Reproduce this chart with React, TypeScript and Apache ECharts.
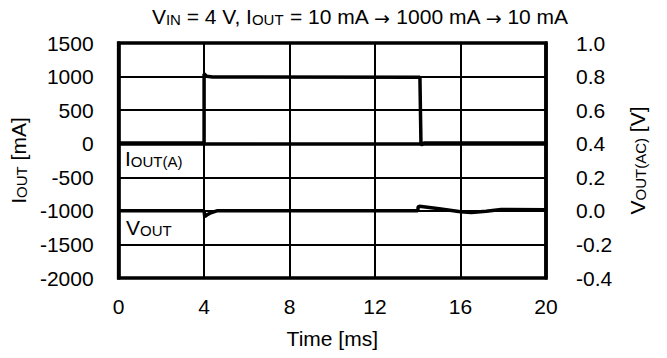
import React, { useEffect, useRef } from "react";
import * as echarts from "echarts";

const xTicks = [0, 4, 8, 12, 16, 20];
const iTime = [0, 4.0, 4.0, 4.12, 4.4, 14.05, 14.1, 14.15, 14.3, 20];
const iVal = [10, 10, 1040, 1005, 995, 990, 990, -20, 10, 10];
const vTime = [0, 4.0, 4.03, 4.15, 4.35, 4.6, 14.0, 14.02, 14.08, 15.0, 16.0, 16.5, 17.2, 17.9, 20];
const vVal = [0, 0, -0.035, -0.022, -0.01, 0, 0, 0.025, 0.027, 0.013, -0.005, -0.01, -0.002, 0.008, 0.007];

const FONT = "'Liberation Sans', Arial, sans-serif";
const FS = 21;
const SS = 15;

export default function App() {
  const ref = useRef<HTMLDivElement>(null);
  useEffect(() => {
    if (!ref.current) return;
    const chart = echarts.init(ref.current, undefined, { renderer: "svg" });
    const n = { fontSize: FS, fontFamily: FONT, color: "#000", verticalAlign: "bottom", lineHeight: 22 };
    const s = { fontSize: SS, fontFamily: FONT, color: "#000", verticalAlign: "bottom", lineHeight: 19 };
    const a = { fontSize: 19, fontFamily: "'DejaVu Sans', sans-serif", color: "#000", verticalAlign: "bottom", lineHeight: 22 };
    const rich = { n, s, a };
    const iData = iTime.map((t, k) => [t, iVal[k]]);
    const vData = vTime.map((t, k) => [t, vVal[k]]);
    const lbl = { color: "#000", fontSize: FS, fontFamily: FONT };
    chart.setOption({
      animation: false,
      backgroundColor: "#fff",
      textStyle: { fontFamily: FONT },
      grid: {
        left: 118,
        right: 121,
        top: 43,
        bottom: 80,
        show: true,
        borderColor: "#000",
        borderWidth: 3.5,
        backgroundColor: "transparent",
      },
      xAxis: {
        type: "value",
        min: xTicks[0],
        max: xTicks[xTicks.length - 1],
        interval: 4,
        axisLine: { show: true, lineStyle: { color: "#000", width: 3.5 } },
        axisTick: { show: false },
        splitLine: { show: true, lineStyle: { color: "#000", width: 2 } },
        axisLabel: { ...lbl, margin: 18 },
        name: "Time [ms]",
        nameLocation: "middle",
        nameGap: 50,
        nameTextStyle: { ...lbl },
      },
      yAxis: [
        {
          type: "value",
          min: -2000,
          max: 1500,
          interval: 500,
          axisLine: { show: true, lineStyle: { color: "#000", width: 3.5 } },
          axisTick: { show: false },
          splitLine: { show: true, lineStyle: { color: "#000", width: 2 } },
          axisLabel: { ...lbl, margin: 25, formatter: (v: number) => String(v) },
          name: "{n|I}{s|OUT}{n| [mA]}",
          nameLocation: "middle",
          nameGap: 88,
          nameTextStyle: { rich },
        },
        {
          type: "value",
          min: -0.4,
          max: 1.0,
          interval: 0.2,
          position: "right",
          axisLine: { show: true, lineStyle: { color: "#000", width: 3.5 } },
          axisTick: { show: false },
          splitLine: { show: false },
          axisLabel: { ...lbl, margin: 30, formatter: (v: number) => v.toFixed(1) },
          name: "{n|V}{s|OUT(AC)}{n| [V]}",
          nameLocation: "middle",
          nameGap: 80,
          nameTextStyle: { rich },
        },
      ],
      graphic: [
        {
          type: "text",
          x: 360,
          y: 5,
          style: {
            text: "{n|V}{s|IN}{n| = 4 V, I}{s|OUT}{n| = 10 mA }{a|→}{n| 1000 mA }{a|→}{n| 10 mA}",
            rich,
            align: "center",
          },
        },
        {
          type: "text",
          x: 125,
          y: 147,
          z: 10,
          style: { text: "{n|I}{s|OUT(A)}", rich },
        },
        {
          type: "text",
          x: 126,
          y: 216,
          z: 10,
          style: { text: "{n|V}{s|OUT}", rich },
        },
      ],
      series: [
        {
          type: "line",
          data: iData,
          yAxisIndex: 0,
          showSymbol: false,
          lineStyle: { color: "#000", width: 3.5 },
          z: 5,
        },
        {
          type: "line",
          data: vData,
          yAxisIndex: 1,
          showSymbol: false,
          lineStyle: { color: "#000", width: 3.5 },
          z: 5,
        },
      ],
    });
    return () => chart.dispose();
  }, []);
  return <div ref={ref} style={{ width: 667, height: 358, position: "absolute", left: 0, top: 0 }} />;
}
